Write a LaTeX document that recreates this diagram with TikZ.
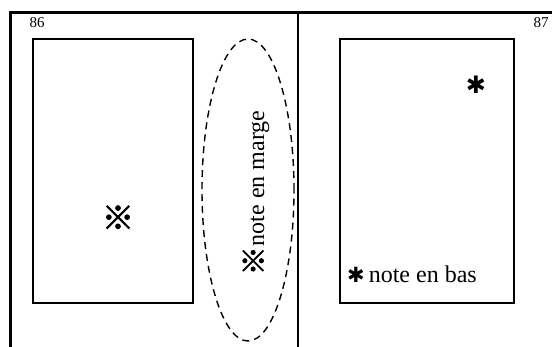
\documentclass[tikz,border=0pt]{standalone}
\usepackage{fontspec}
\setmainfont{Liberation Serif}
\newfontfamily\cjkfont{Noto Sans CJK JP}[FakeBold=2.5,AutoFakeBold=2.5]
\newfontfamily\dvfont{DejaVu Sans}
\usetikzlibrary{shapes.geometric}
\begin{document}
\begin{tikzpicture}[x=1pt,y=-1pt,
  pagebox/.style={line width=2pt},
  frame/.style={line width=3pt},
  txt/.style={inner sep=0pt,font=\fontsize{24}{26}\selectfont},
  pagenum/.style={inner sep=0pt,font=\fontsize{15}{16}\selectfont},
  symb/.style={inner sep=0pt}]
\useasboundingbox (0,0) rectangle (552,347);
% frame
\draw[frame] (10.5,347) -- (10.5,13) -- (552,13);
\draw[line width=2pt] (298,13) -- (298,347);
% page boxes
\draw[pagebox] (33,39) rectangle (193,303);
\draw[pagebox] (340,39) rectangle (514,303);
% margin ellipse
\node[draw,line width=1.4pt,ellipse,minimum width=92pt,minimum height=302pt,inner sep=0pt,dash pattern=on 7pt off 5pt] (marge) at (248,190) {};
% page numbers
\node[pagenum] (p86) at (37,23) {86};
\node[pagenum] (p87) at (541,23) {87};
% symbols
\node[symb,font=\cjkfont\bfseries\fontsize{32}{34}\selectfont] (ref) at (118,217.5) {※};
\node[symb,font=\dvfont\fontsize{24}{26}\selectfont] (ast) at (476,85) {✱};
% notes
\node[txt,rotate=90] (noteMarge) at (256,193) {{\cjkfont\bfseries\fontsize{29}{30}\selectfont ※}note en marge};
\node[txt,anchor=base west] (noteBas) at (347,283) {{\dvfont\fontsize{21}{22}\selectfont ✱}\,note en bas};
\end{tikzpicture}
\end{document}
